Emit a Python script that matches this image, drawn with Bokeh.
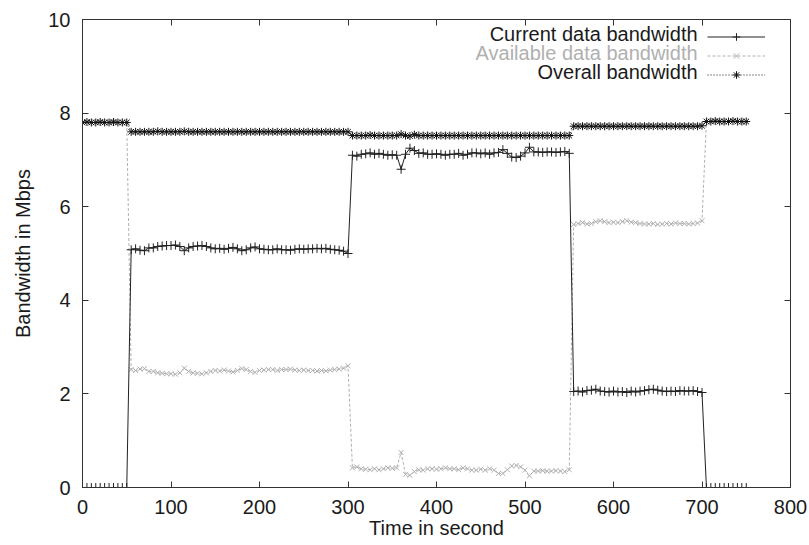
from bokeh.plotting import figure
from bokeh.models import Range1d, LinearAxis, FixedTicker, CustomJSTickFormatter, Legend, LegendItem, Label
from bokeh.embed import file_html
from bokeh.resources import INLINE

# ---------------- data ----------------
time_s = list(range(0, 755, 5))

x_ticks = [0, 100, 200, 300, 400, 500, 600, 700, 800]
y_ticks = [0, 2, 4, 6, 8, 10]

current_bw = [
    # 0-50
    0, 0, 0, 0, 0, 0, 0, 0, 0, 0, 0,
    # 55-300
    5.08, 5.10, 5.07, 5.06, 5.12, 5.12, 5.15, 5.16, 5.17, 5.17,
    5.18, 5.15, 5.06, 5.12, 5.15, 5.16, 5.17, 5.15, 5.12, 5.10,
    5.11, 5.09, 5.11, 5.13, 5.10, 5.06, 5.08, 5.12, 5.14, 5.10,
    5.09, 5.08, 5.08, 5.10, 5.08, 5.08, 5.07, 5.09, 5.10, 5.09,
    5.10, 5.10, 5.11, 5.10, 5.11, 5.09, 5.08, 5.07, 5.05, 5.00,
    # 305-550
    7.10, 7.08, 7.12, 7.13, 7.15, 7.12, 7.14, 7.12, 7.10, 7.11,
    7.10, 6.80, 7.12, 7.25, 7.20, 7.14, 7.15, 7.12, 7.12, 7.13,
    7.12, 7.10, 7.12, 7.12, 7.14, 7.10, 7.12, 7.15, 7.15, 7.13,
    7.15, 7.12, 7.15, 7.16, 7.22, 7.14, 7.06, 7.05, 7.08, 7.15,
    7.27, 7.17, 7.17, 7.16, 7.17, 7.17, 7.16, 7.17, 7.18, 7.14,
    # 555-700
    2.05, 2.06, 2.04, 2.07, 2.08, 2.10, 2.06, 2.05, 2.04, 2.06,
    2.04, 2.05, 2.03, 2.06, 2.04, 2.06, 2.07, 2.09, 2.10, 2.08,
    2.06, 2.05, 2.06, 2.05, 2.07, 2.06, 2.06, 2.07, 2.05, 2.03,
    # 705-750
    0, 0, 0, 0, 0, 0, 0, 0, 0, 0,
]

available_bw = [
    # 0-50
    7.80, 7.81, 7.80, 7.80, 7.81, 7.80, 7.80, 7.81, 7.80, 7.80, 7.80,
    # 55-300
    2.52, 2.50, 2.53, 2.54, 2.48, 2.48, 2.45, 2.44, 2.43, 2.43,
    2.42, 2.45, 2.55, 2.48, 2.45, 2.44, 2.43, 2.45, 2.48, 2.50,
    2.49, 2.51, 2.49, 2.47, 2.50, 2.54, 2.52, 2.48, 2.46, 2.50,
    2.51, 2.52, 2.52, 2.50, 2.52, 2.52, 2.53, 2.51, 2.50, 2.51,
    2.50, 2.50, 2.49, 2.50, 2.49, 2.51, 2.52, 2.53, 2.55, 2.60,
    # 305-550
    0.42, 0.44, 0.40, 0.39, 0.38, 0.40, 0.38, 0.40, 0.42, 0.41,
    0.42, 0.75, 0.28, 0.26, 0.34, 0.38, 0.37, 0.40, 0.40, 0.39,
    0.40, 0.42, 0.40, 0.40, 0.38, 0.42, 0.40, 0.37, 0.37, 0.39,
    0.37, 0.40, 0.37, 0.30, 0.30, 0.38, 0.46, 0.47, 0.44, 0.37,
    0.25, 0.35, 0.35, 0.36, 0.35, 0.35, 0.36, 0.35, 0.34, 0.38,
    # 555-700
    5.62, 5.64, 5.66, 5.63, 5.64, 5.68, 5.70, 5.68, 5.66, 5.67,
    5.66, 5.68, 5.70, 5.67, 5.66, 5.64, 5.63, 5.63, 5.64, 5.62,
    5.63, 5.64, 5.63, 5.65, 5.64, 5.64, 5.63, 5.64, 5.65, 5.70,
    # 705-750
    7.82, 7.82, 7.83, 7.82, 7.82, 7.82, 7.83, 7.82, 7.82, 7.82,
]

overall_bw = [
    # 0-50
    7.80, 7.81, 7.80, 7.80, 7.81, 7.80, 7.80, 7.81, 7.80, 7.80, 7.80,
    # 55-300
    7.60, 7.60, 7.60, 7.60, 7.60, 7.60, 7.61, 7.60, 7.60, 7.60,
    7.60, 7.60, 7.61, 7.60, 7.60, 7.60, 7.60, 7.60, 7.60, 7.60,
    7.60, 7.60, 7.60, 7.60, 7.60, 7.60, 7.60, 7.60, 7.60, 7.60,
    7.60, 7.60, 7.60, 7.60, 7.60, 7.60, 7.60, 7.60, 7.60, 7.60,
    7.60, 7.60, 7.60, 7.60, 7.60, 7.60, 7.60, 7.60, 7.60, 7.60,
    # 305-550
    7.52, 7.52, 7.52, 7.52, 7.53, 7.52, 7.52, 7.52, 7.52, 7.52,
    7.52, 7.55, 7.52, 7.51, 7.54, 7.52, 7.52, 7.52, 7.52, 7.52,
    7.52, 7.52, 7.52, 7.52, 7.52, 7.52, 7.52, 7.52, 7.52, 7.52,
    7.52, 7.52, 7.52, 7.52, 7.52, 7.52, 7.52, 7.52, 7.52, 7.52,
    7.52, 7.52, 7.52, 7.52, 7.52, 7.52, 7.52, 7.52, 7.52, 7.52,
    # 555-700
    7.72, 7.72, 7.72, 7.72, 7.72, 7.72, 7.72, 7.72, 7.72, 7.72,
    7.72, 7.72, 7.72, 7.72, 7.72, 7.72, 7.72, 7.72, 7.72, 7.72,
    7.72, 7.72, 7.72, 7.72, 7.72, 7.72, 7.72, 7.72, 7.72, 7.73,
    # 705-750
    7.82, 7.82, 7.83, 7.82, 7.82, 7.82, 7.83, 7.82, 7.82, 7.82,
]

series_labels = ["Current data bandwidth", "Available data bandwidth", "Overall bandwidth"]

# ---------------- styles ----------------
FONT = "Liberation Sans"
FS = "20px"
TXT = "#1a1a1a"
C_CUR = "#222222"
C_AVL = "#b0b0b0"
C_ALL = "#111111"

p = figure(width=809, height=545,
           x_range=Range1d(0, 800), y_range=Range1d(0, 10),
           output_backend="svg", toolbar_location=None,
           min_border_left=82, min_border_right=19,
           min_border_top=19, min_border_bottom=58)

p.background_fill_color = "white"
p.border_fill_color = "white"
p.outline_line_color = "#333333"
p.outline_line_width = 1
p.xgrid.visible = False
p.ygrid.visible = False

p.xaxis.ticker = FixedTicker(ticks=x_ticks)
p.yaxis.ticker = FixedTicker(ticks=y_ticks)
p.xaxis.axis_label = "Time in second"
p.yaxis.axis_label = "Bandwidth in Mbps"

for ax in [p.xaxis[0], p.yaxis[0]]:
    ax.major_tick_in = 6
    ax.major_tick_out = 0
    ax.minor_tick_in = 0
    ax.minor_tick_out = 0
    ax.axis_line_color = "#333333"
    ax.major_tick_line_color = "#333333"
    ax.major_label_text_font = FONT
    ax.major_label_text_font_size = FS
    ax.major_label_text_color = TXT
    ax.axis_label_text_font = FONT
    ax.axis_label_text_font_size = FS
    ax.axis_label_text_font_style = "normal"
    ax.axis_label_text_color = TXT

p.xaxis.major_label_standoff = 12
p.xaxis.axis_label_standoff = 0
p.yaxis.major_label_standoff = 12
p.yaxis.axis_label_standoff = 11

# mirrored ticks (top and right), gnuplot style
top_ax = LinearAxis(ticker=FixedTicker(ticks=x_ticks),
                    formatter=CustomJSTickFormatter(code="return ''"))
right_ax = LinearAxis(ticker=FixedTicker(ticks=y_ticks),
                      formatter=CustomJSTickFormatter(code="return ''"))
for ax in [top_ax, right_ax]:
    ax.major_tick_in = 6
    ax.major_tick_out = 0
    ax.minor_tick_in = 0
    ax.minor_tick_out = 0
    ax.major_label_standoff = 0
    ax.axis_line_color = None
    ax.major_tick_line_color = "#333333"
p.add_layout(top_ax, "above")
p.add_layout(right_ax, "right")

# ---------------- series ----------------
l_avl = p.line(time_s, available_bw, line_color=C_AVL, line_width=1, line_dash="3 2")
s_avl = p.scatter(time_s, available_bw, marker="x", size=7, line_color=C_AVL, line_width=1)

l_cur = p.line(time_s, current_bw, line_color=C_CUR, line_width=1)
s_cur = p.scatter(time_s, current_bw, marker="cross", size=9, line_color=C_CUR, line_width=1)

l_all = p.line(time_s, overall_bw, line_color=C_ALL, line_width=1, line_dash="1 2")
s_all = p.scatter(time_s, overall_bw, marker="asterisk", size=8, line_color=C_ALL, line_width=1)

# ---------------- legend: samples on the right, texts right-aligned to their left ----------------
legend = Legend(items=[LegendItem(label="", renderers=[l_cur, s_cur]),
                       LegendItem(label="", renderers=[l_avl, s_avl]),
                       LegendItem(label="", renderers=[l_all, s_all])],
                location=(625, 403), orientation="vertical",
                glyph_width=58, glyph_height=19, label_height=19, label_width=0,
                label_standoff=0, padding=0, spacing=0, margin=0,
                label_text_font_size="19px",
                background_fill_alpha=0, border_line_alpha=0)
p.add_layout(legend)

legend_text_y = [9.68, 9.28, 8.87]
legend_text_colors = [TXT, C_AVL, TXT]
for txt, ty, col in zip(series_labels, legend_text_y, legend_text_colors):
    p.add_layout(Label(x=695, y=ty, x_units="data", y_units="data", text=txt,
                       text_align="right", text_baseline="middle",
                       text_font=FONT, text_font_size=FS, text_color=col))

open("out.html", "w").write(file_html(p, INLINE))
